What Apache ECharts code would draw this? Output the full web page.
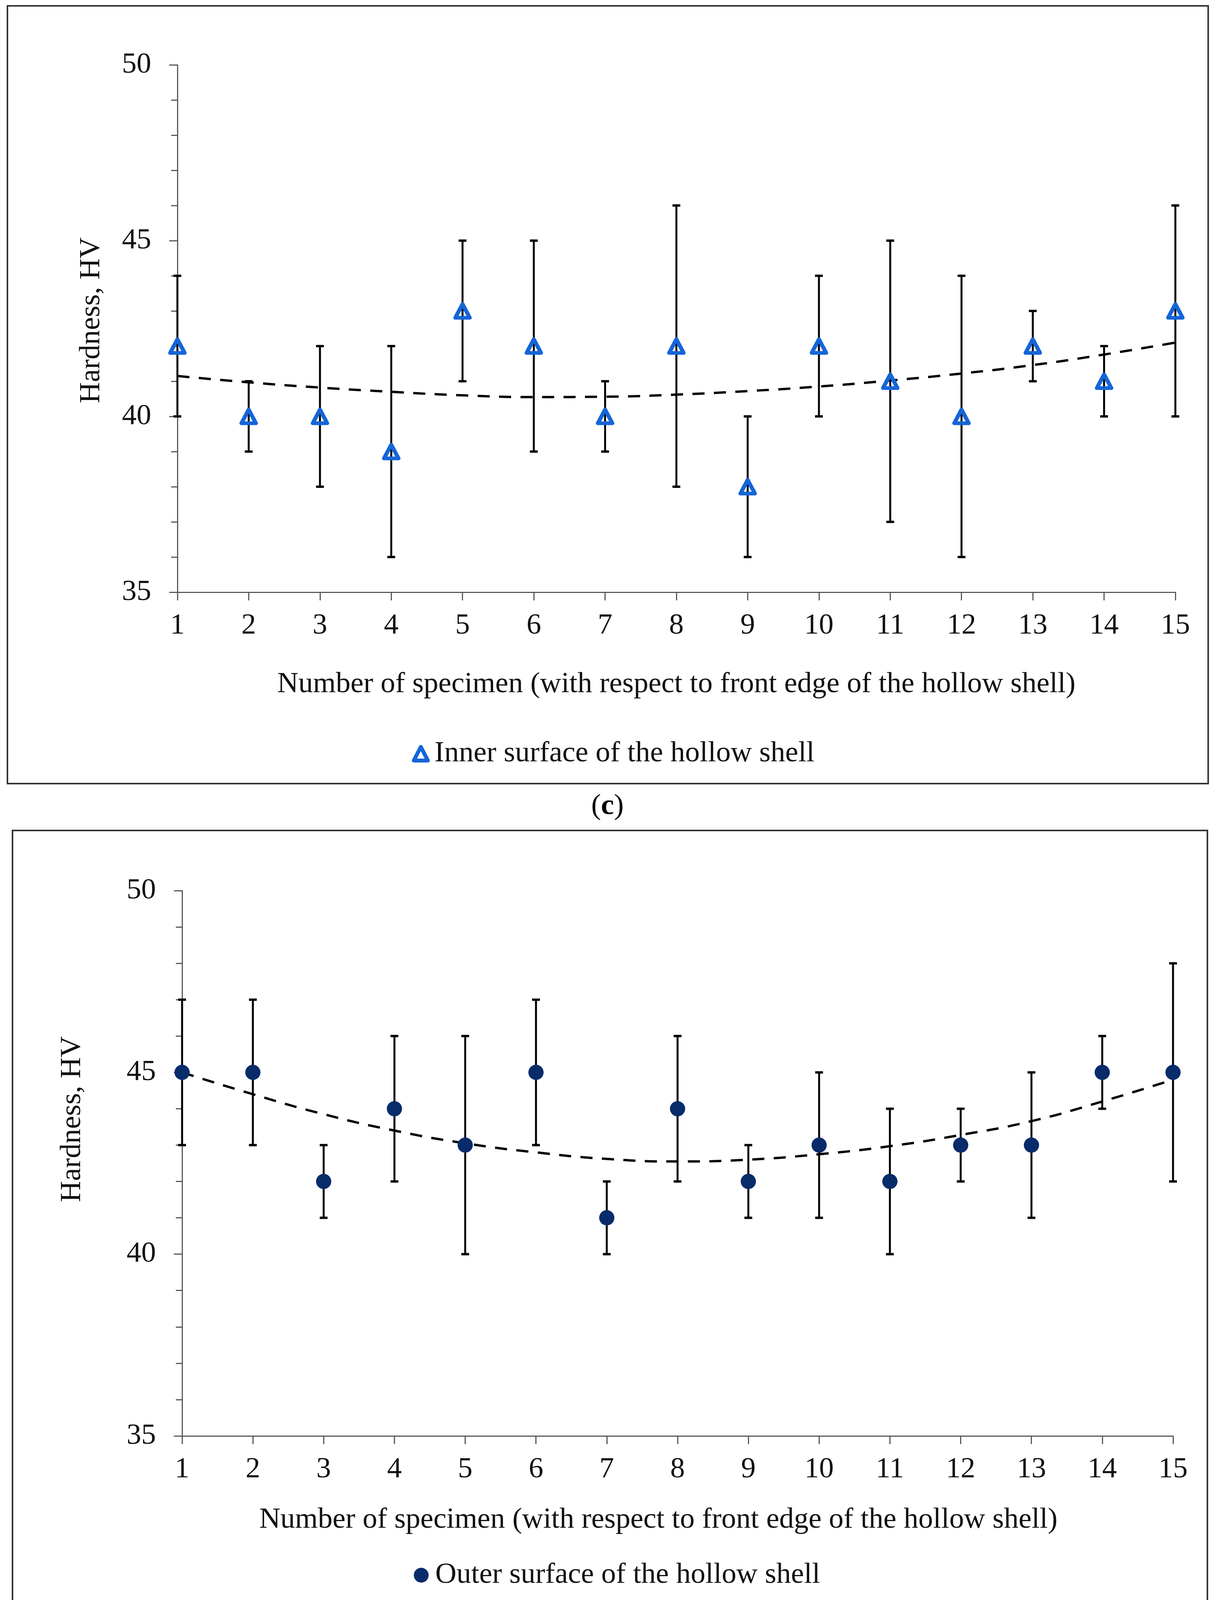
<!DOCTYPE html>
<html>
<head>
<meta charset="utf-8">
<script src="https://cdn.jsdelivr.net/npm/echarts@6/dist/echarts.min.js"></script>
<style>
html,body{margin:0;padding:0;background:#fff;}
#chart{width:3112px;height:4233px;}
</style>
</head>
<body>
<div id="chart"></div>
<script>
// ---- data ----
const specimens = [1,2,3,4,5,6,7,8,9,10,11,12,13,14,15];
const yTickLabels = [35,40,45,50];

// (c) inner surface
const innerHardness = [42,40,40,39,43,42,40,42,38,42,41,40,42,41,43];
const innerLow      = [40,39,38,36,41,39,39,38,36,40,37,36,41,40,40];
const innerHigh     = [44,41,42,42,45,45,41,46,40,44,45,44,43,42,46];
const innerTrend    = [41.15,40.97,40.82,40.7,40.6,40.55,40.56,40.62,40.72,40.85,41.02,41.22,41.46,41.76,42.1];

// (d) outer surface
const outerHardness = [45,45,42,44,43,45,41,44,42,43,42,43,43,45,45];
const outerLow      = [43,43,41,42,40,43,40,42,41,41,40,42,41,44,42];
const outerHigh     = [47,47,43,46,46,47,42,46,43,45,44,44,45,46,48];
const outerTrend    = [45.0,44.4,43.85,43.4,43.05,42.8,42.62,42.55,42.6,42.75,42.97,43.28,43.66,44.2,44.8];

const innerName = 'Inner surface of the hollow shell';
const outerName = 'Outer surface of the hollow shell';
const xName = 'Number of specimen (with respect to front edge of the hollow shell)';
const yName = 'Hardness, HV';

// ---- styling ----
const FONT = 'Liberation Serif';
const FS = 75;
const TXT = '#111';
const AX = '#5a5a5a';
const BLUE = '#1565d8';
const NAVY = '#082b6a';

const pairs = (xs, ys) => xs.map((x, i) => [x, ys[i]]);
const bars = (xs, lo, hi) => xs.map((x, i) => [x, lo[i], hi[i]]);

function errRender(params, api) {
  const x = api.value(0);
  const lo = api.coord([x, api.value(1)]);
  const hi = api.coord([x, api.value(2)]);
  const h = 10;
  const st = { stroke: '#000', lineWidth: 5 };
  const cap = { stroke: '#000', lineWidth: 6 };
  return {
    type: 'group',
    children: [
      { type: 'line', shape: { x1: hi[0], y1: hi[1], x2: lo[0], y2: lo[1] }, style: st },
      { type: 'line', shape: { x1: hi[0] - h, y1: hi[1], x2: hi[0] + h, y2: hi[1] }, style: cap },
      { type: 'line', shape: { x1: lo[0] - h, y1: lo[1], x2: lo[0] + h, y2: lo[1] }, style: cap }
    ]
  };
}

function xAxisDef(gridIndex, nameGap, namePad) {
  return {
    gridIndex, type: 'value', min: 1, max: 15, interval: 1,
    name: xName, nameLocation: 'middle', nameGap,
    nameTextStyle: { fontFamily: FONT, fontSize: FS, color: TXT, padding: namePad },
    axisLine: { show: true, onZero: false, lineStyle: { color: AX, width: 3 } },
    axisTick: { show: true, length: 21, lineStyle: { color: AX, width: 3 } },
    axisLabel: { fontFamily: FONT, fontSize: FS, color: TXT, margin: 49,
      formatter: v => (specimens.indexOf(v) >= 0 ? String(v) : '') },
    splitLine: { show: false }
  };
}
function yAxisDef(gridIndex, nameGap, namePad) {
  return {
    gridIndex, type: 'value', min: yTickLabels[0], max: yTickLabels[yTickLabels.length - 1], interval: 5,
    name: yName, nameLocation: 'middle', nameGap, nameRotate: 90,
    nameTextStyle: { fontFamily: FONT, fontSize: FS, color: TXT, padding: namePad },
    axisLine: { show: true, onZero: false, lineStyle: { color: AX, width: 3 } },
    axisTick: { show: true, length: 21, lineStyle: { color: AX, width: 3 } },
    minorTick: { show: true, splitNumber: 5, length: 16, lineStyle: { color: AX, width: 3 } },
    axisLabel: { fontFamily: FONT, fontSize: FS, color: TXT, margin: 67 },
    splitLine: { show: false }, minorSplitLine: { show: false }
  };
}

function caption(letter, cx, cy) {
  return {
    type: 'text', left: cx - 45, top: cy - 45,
    style: {
      text: '{n|(}{b|' + letter + '}{n|)}',
      rich: {
        n: { fontFamily: FONT, fontSize: FS, fill: '#000' },
        b: { fontFamily: FONT, fontSize: FS, fontWeight: 'bold', fill: '#000' }
      }
    }
  };
}

const chart = echarts.init(document.getElementById('chart'), null, { renderer: 'canvas' });
chart.setOption({
  backgroundColor: '#fff',
  animation: false,
  grid: [
    { left: 454, top: 166, width: 2554, height: 1350 },
    { left: 466, top: 2280, width: 2536, height: 1396 }
  ],
  xAxis: [ xAxisDef(0, 199, [0,0,0,0]), xAxisDef(1, 178, [0,98,0,0]) ],
  yAxis: [ yAxisDef(0, 182, [0,0,0,42]), yAxisDef(1, 243, [0,0,0,226]) ],
  legend: [
    {
      data: [innerName], left: 1049, top: 1887, itemWidth: 36, itemHeight: 35, icon: 'triangle',
      itemStyle: { color: '#fff', borderColor: BLUE, borderWidth: 10, borderJoin: 'round' },
      textStyle: { fontFamily: FONT, fontSize: FS, color: TXT, padding: [0,0,0,12] }
    },
    {
      data: [outerName], left: 1054, top: 3990, itemWidth: 38, itemHeight: 38, icon: 'circle',
      itemStyle: { color: NAVY, borderWidth: 0 },
      textStyle: { fontFamily: FONT, fontSize: FS, color: TXT, padding: [0,0,0,12] }
    }
  ],
  graphic: [
    { type: 'rect', shape: { x: 19, y: 15, width: 3073, height: 1991 },
      style: { fill: 'none', stroke: '#333', lineWidth: 4 }, silent: true },
    { type: 'rect', shape: { x: 32, y: 2126, width: 3058, height: 1982 },
      style: { fill: 'none', stroke: '#333', lineWidth: 4 }, silent: true },
    caption('c', 1558, 2072),
    caption('d', 1558, 4178)
  ],
  series: [
    { type: 'line', name: 'Inner trend', xAxisIndex: 0, yAxisIndex: 0, data: pairs(specimens, innerTrend),
      smooth: true, showSymbol: false, z: 2,
      lineStyle: { color: '#000', width: 6, type: [31, 24] } },
    { type: 'custom', name: 'Inner error', xAxisIndex: 0, yAxisIndex: 0, data: bars(specimens, innerLow, innerHigh),
      renderItem: errRender, encode: { x: 0, y: [1, 2] }, z: 3 },
    { type: 'scatter', name: innerName, xAxisIndex: 0, yAxisIndex: 0, data: pairs(specimens, innerHardness),
      symbol: 'triangle', symbolSize: [37, 35], z: 5,
      itemStyle: { color: 'rgba(255,255,255,0)', borderColor: BLUE, borderWidth: 10, borderJoin: 'round', opacity: 1 } },

    { type: 'line', name: 'Outer trend', xAxisIndex: 1, yAxisIndex: 1, data: pairs(specimens, outerTrend),
      smooth: true, showSymbol: false, z: 2,
      lineStyle: { color: '#000', width: 6, type: [31, 24] } },
    { type: 'custom', name: 'Outer error', xAxisIndex: 1, yAxisIndex: 1, data: bars(specimens, outerLow, outerHigh),
      renderItem: errRender, encode: { x: 0, y: [1, 2] }, z: 3 },
    { type: 'scatter', name: outerName, xAxisIndex: 1, yAxisIndex: 1, data: pairs(specimens, outerHardness),
      symbol: 'circle', symbolSize: 39, z: 5,
      itemStyle: { color: NAVY, opacity: 1 } }
  ]
});
</script>
</body>
</html>
